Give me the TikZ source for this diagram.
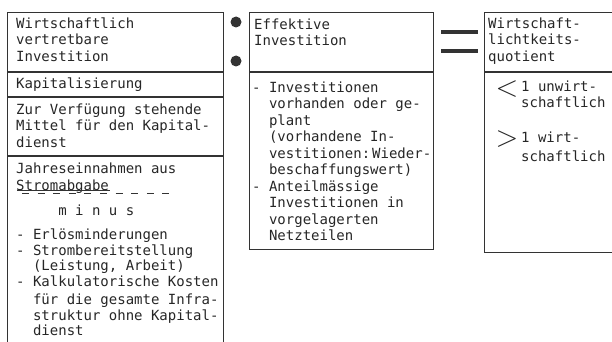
\documentclass[tikz,border=0pt]{standalone}
\usepackage{fontspec}
\setmonofont{DejaVu Sans Mono}
\usetikzlibrary{positioning}
\tikzset{
box/.style={draw=black!80, line width=0.9pt, inner sep=0pt, anchor=north west}, % empty frame of a field
txt/.style={font=\ttfamily\fontsize{14}{16.5}\selectfont, text=black!85, align=left, inner sep=0pt, anchor=north west}, % typed text
tighttxt/.style={txt, font=\ttfamily\fontsize{14}{15.5}\selectfont}, % typed text, closer lines
sepline/.style={draw=black!80, line width=2pt}, % heavy rule under a heading
dot/.style={circle, fill=black!80, minimum size=11pt, inner sep=0pt}, % the two dots of the division sign
bar/.style={draw=black!80, line width=4pt}, % the bars of the equals sign
sym/.style={font=\fontsize{24}{24}\selectfont, text=black!85, inner sep=0pt}, % big comparison signs
}

\begin{document}
\begin{tikzpicture}[x=1pt, y=-1pt]
      \useasboundingbox (0,0) rectangle (612,342);
      \clip (0,0) rectangle (612,342);
      % left column
      \node[box, minimum width=216pt, minimum height=59pt] (lhead) at (7,12) {};
      \node[box, minimum width=216pt, minimum height=24pt] (lkap) at (lhead.south west) {};
      \node[box, minimum width=216pt, minimum height=58pt] (lmit) at (lkap.south west) {};
      \node[box, minimum width=216pt, minimum height=210pt] (lein) at (lmit.south west) {};
      \draw[sepline] (lhead.south west) -- (lhead.south east);
      \node[txt, below right=4.5pt and 9pt of lhead.north west] (lheadtxt) {\strut Wirtschaftlich\\vertretbare\\Investition};
      \node[txt, below right=4.5pt and 9pt of lkap.north west] (lkaptxt) {\strut Kapitalisierung};
      \node[txt, below right=5.5pt and 9pt of lmit.north west] (lmittxt) {\strut Zur Verfügung stehende\\Mittel für den Kapital-\\dienst};
      \node[txt, below right=6.5pt and 9pt of lein.north west] (leintxt) {\strut Jahreseinnahmen aus\\Stromabgabe\\[8.5pt]\phantom{xxxxx}m i n u s};
      \node[tighttxt, below right=73pt and 9pt of lein.north west] (leinlist) {\strut - Erlösminderungen\\- Strombereitstellung\\\phantom{xx}(Leistung, Arbeit)\\- Kalkulatorische Kosten\\[3pt]\phantom{xx}für die gesamte Infra-\\\phantom{xx}struktur ohne Kapital-\\\phantom{xx}dienst};
      \draw[black!80, line width=0.8pt] (17,190) -- (110,190);
      \draw[black!80, line width=1.3pt, dash pattern=on 7pt off 8.6pt] (22,193.5) -- (178,193.5);

      % division sign
      \node[dot] (dtop) at (236,22) {};
      \node[dot] (dbot) at (236,61) {};

      % middle column
      \node[box, minimum width=184pt, minimum height=59pt] (mhead) at (249,12) {};
      \node[box, minimum width=184pt, minimum height=177pt] (mbody) at (mhead.south west) {};
      \draw[sepline] (mhead.south west) -- (mhead.south east);
      \node[txt, below right=5.5pt and 5pt of mhead.north west] (mheadtxt) {\strut Effektive\\Investition};
      \node[txt, below right=8.5pt and 3pt of mbody.north west] (mbodytxt) {\strut - Investitionen\\\phantom{xx}vorhanden oder ge-\\\phantom{xx}plant\\\phantom{xx}(vorhandene In-\\\phantom{xx}vestitionen:\kern2pt Wieder-\\\phantom{xx}beschaffungswert)\\- Anteilmässige\\\phantom{xx}Investitionen in\\\phantom{xx}vorgelagerten\\\phantom{xx}Netzteilen};

      % equals sign
      \draw[bar] (441,32) -- (478,32);
      \draw[bar] (441,51) -- (478,51);

      % right column
      \node[box, minimum width=160pt, minimum height=59pt] (rhead) at (484,12) {};
      \node[box, minimum width=160pt, minimum height=180pt] (rbody) at (rhead.south west) {};
      \draw[sepline] (rhead.south west) -- (rhead.south east);
      \node[txt, below right=4.5pt and 4pt of rhead.north west] (rheadtxt) {\strut Wirtschaft-\\lichtkeits-\\quotient};
      \node[sym] (ltsym) at ([shift={(23,17)}]rbody.north west) {\scalebox{1.2}{$<$}};
      \node[txt, below right=7.5pt and 37pt of rbody.north west] (rlttxt) {\strut 1 unwirt-\\schaftlich};
      \node[sym] (gtsym) at ([shift={(23,67.5)}]rbody.north west) {\scalebox{1.2}{$>$}};
      \node[txt, below right=58.5pt and 37pt of rbody.north west] (rgttxt) {\strut 1 wirt-\\[3pt]schaftlich};
\end{tikzpicture}
\end{document}
